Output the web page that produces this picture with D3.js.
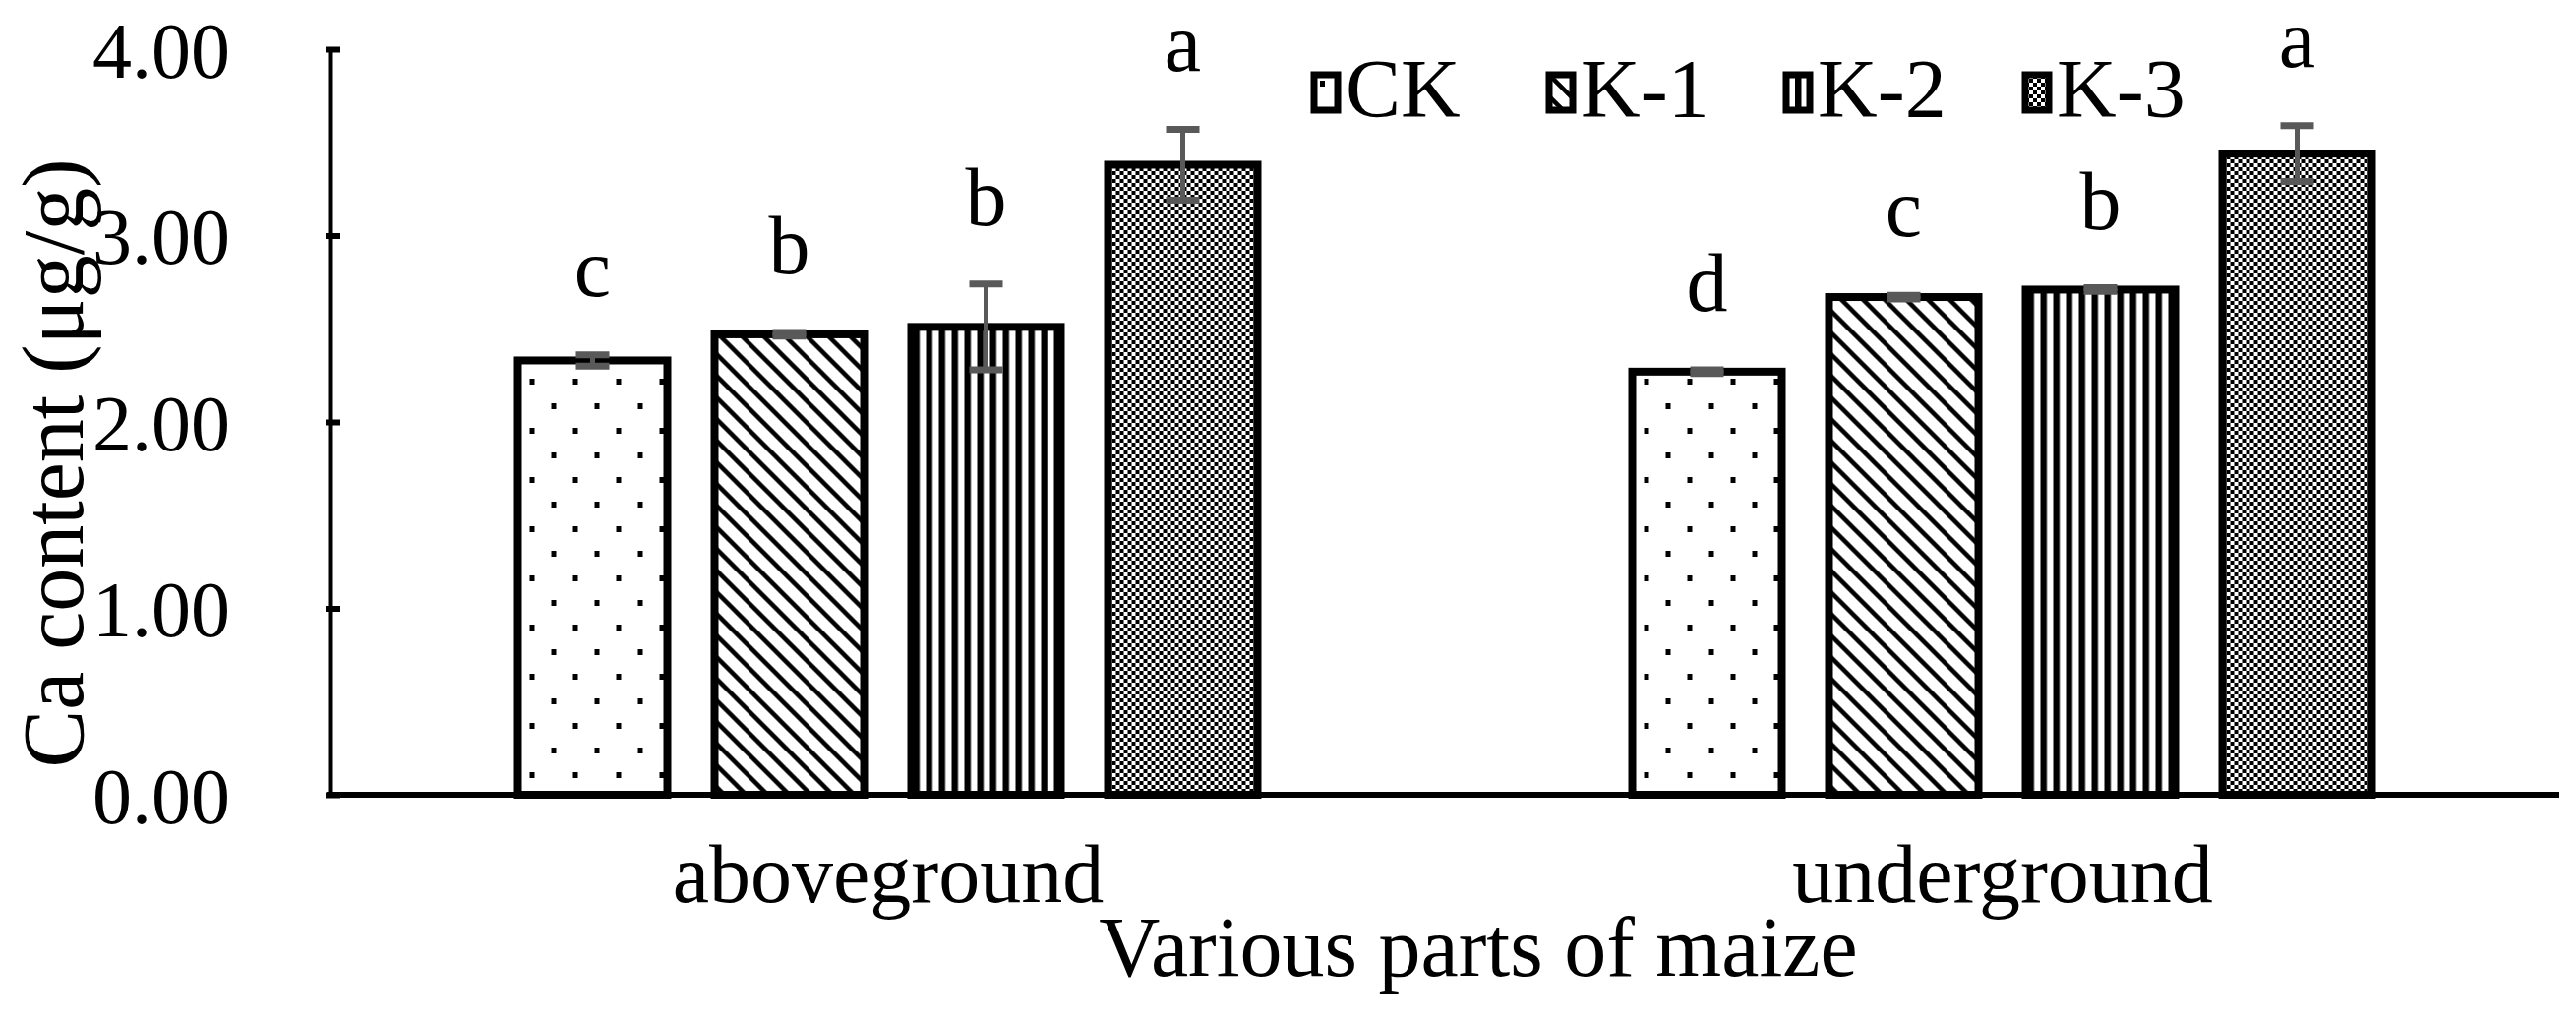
<!DOCTYPE html>
<html><head><meta charset="utf-8">
<script src="https://cdn.jsdelivr.net/npm/d3@7"></script>
<style>body{margin:0;background:#fff}text{font-family:"Liberation Serif","Times New Roman",serif;fill:#000}</style>
</head><body><div id="chart"></div>
<script>
// data
var groups = ["aboveground", "underground"];
var series = ["CK", "K-1", "K-2", "K-3"];
var values = [[2.33, 2.47, 2.51, 3.38], [2.27, 2.67, 2.71, 3.44]];
var errors = [[0.03, 0.01, 0.23, 0.19], [0.01, 0.01, 0.01, 0.15]];
var letters = [["c", "b", "b", "a"], ["d", "c", "b", "a"]];
var yTicks = [0, 1, 2, 3, 4];

var W = 2619, H = 1038;
var margin = {top: 50, right: 17, bottom: 230, left: 336},
    width = W - margin.left - margin.right,
    height = H - margin.top - margin.bottom;

var svg = d3.select("#chart").append("svg").attr("width", W).attr("height", H);
var defs = svg.append("defs");

// fill patterns
var p = defs.append("pattern").attr("id", "pCK").attr("patternUnits", "userSpaceOnUse").attr("width", 44).attr("height", 50);
p.append("rect").attr("width", 44).attr("height", 50).attr("fill", "#fff");
p.append("rect").attr("x", 10).attr("y", 10).attr("width", 5).attr("height", 6).attr("fill", "#000");
p.append("rect").attr("x", 32).attr("y", 35).attr("width", 5).attr("height", 6).attr("fill", "#000");

p = defs.append("pattern").attr("id", "pK1").attr("patternUnits", "userSpaceOnUse").attr("width", 22).attr("height", 22);
p.append("rect").attr("width", 22).attr("height", 22).attr("fill", "#fff");
p.append("path").attr("d", "M-2,-2 L24,24 M-13,9 L13,35 M9,-13 L35,13").attr("stroke", "#000").attr("stroke-width", 4.5);

p = defs.append("pattern").attr("id", "pK2").attr("patternUnits", "userSpaceOnUse").attr("width", 13).attr("height", 13);
p.append("rect").attr("width", 13).attr("height", 13).attr("fill", "#fff");
p.append("rect").attr("width", 6.5).attr("height", 13).attr("fill", "#000");

p = defs.append("pattern").attr("id", "pK3").attr("patternUnits", "userSpaceOnUse").attr("width", 8).attr("height", 8);
p.append("rect").attr("width", 8).attr("height", 8).attr("fill", "#fff");
p.append("rect").attr("width", 4).attr("height", 4).attr("fill", "#000");
p.append("rect").attr("x", 4).attr("y", 4).attr("width", 4).attr("height", 4).attr("fill", "#000");
var fills = ["url(#pCK)", "url(#pK1)", "url(#pK2)", "url(#pK3)"];

var g = svg.append("g").attr("transform", `translate(${margin.left},${margin.top})`);

var x0 = d3.scalePoint().domain(groups).range([0, width]).padding(0.5);
var x1 = d3.scaleBand().domain(series).range([-376, 376]).paddingInner(0.24);
var y = d3.scaleLinear().domain([0, 4]).range([height, 0]);

// bars
groups.forEach(function(gr, gi) {
  var gg = g.append("g").attr("transform", `translate(${x0(gr)},0)`);
  series.forEach(function(s, si) {
    var v = values[gi][si], e = errors[gi][si];
    var bx = x1(s), bw = x1.bandwidth(), cx = bx + bw / 2;
    gg.append("rect").attr("x", bx).attr("y", y(v)).attr("width", bw).attr("height", height - y(v))
      .attr("fill", fills[si]).attr("stroke", "#000").attr("stroke-width", 8);
    gg.append("line").attr("x1", cx).attr("x2", cx).attr("y1", y(v + e)).attr("y2", y(v - e))
      .attr("stroke", "#595959").attr("stroke-width", 5);
    [v + e, v - e].forEach(function(t) {
      gg.append("line").attr("x1", cx - 17).attr("x2", cx + 17).attr("y1", y(t)).attr("y2", y(t))
        .attr("stroke", "#595959").attr("stroke-width", 7);
    });
    gg.append("text").attr("x", cx).attr("y", y(v + e) - 60).attr("text-anchor", "middle")
      .style("font-size", "84px").text(letters[gi][si]);
  });
});

// axes
var yAxis = g.append("g").call(d3.axisLeft(y).tickValues(yTicks).tickFormat(d3.format(".2f")).tickSize(-10).tickPadding(102));
yAxis.select(".domain").attr("stroke-width", 5).attr("d", `M0,${height}V0`);
yAxis.selectAll(".tick line").attr("stroke-width", 6).attr("x1", -5).attr("x2", 10);
yAxis.selectAll("text").style("font-size", "80px").attr("dy", "0.35em");

g.append("line").attr("x1", -4).attr("x2", width).attr("y1", height).attr("y2", height)
  .attr("stroke", "#000").attr("stroke-width", 6);

var xAxis = g.append("g").attr("transform", `translate(0,${height})`).call(d3.axisBottom(x0).tickSize(0));
xAxis.select(".domain").remove();
xAxis.selectAll("text").style("font-size", "84px").attr("y", 109).attr("dy", 0);

svg.append("text").attr("x", 1503).attr("y", 992).attr("text-anchor", "middle").style("font-size", "86px")
  .text("Various parts of maize");
svg.append("text").attr("transform", "translate(84,471) rotate(-90)").attr("text-anchor", "middle").style("font-size", "88px")
  .text("Ca content (μg/g)");

// legend
var legX = [1332, 1571, 1812, 2055];
series.forEach(function(s, i) {
  var lg = svg.append("g").attr("transform", `translate(${legX[i]},72)`);
  lg.append("rect").attr("x", 4).attr("y", 4).attr("width", 24).attr("height", 36)
    .attr("fill", fills[i]).attr("stroke", "#000").attr("stroke-width", 7);
  lg.append("text").attr("x", 36).attr("y", 47).style("font-size", "84px").text(s);
});
</script></body></html>
